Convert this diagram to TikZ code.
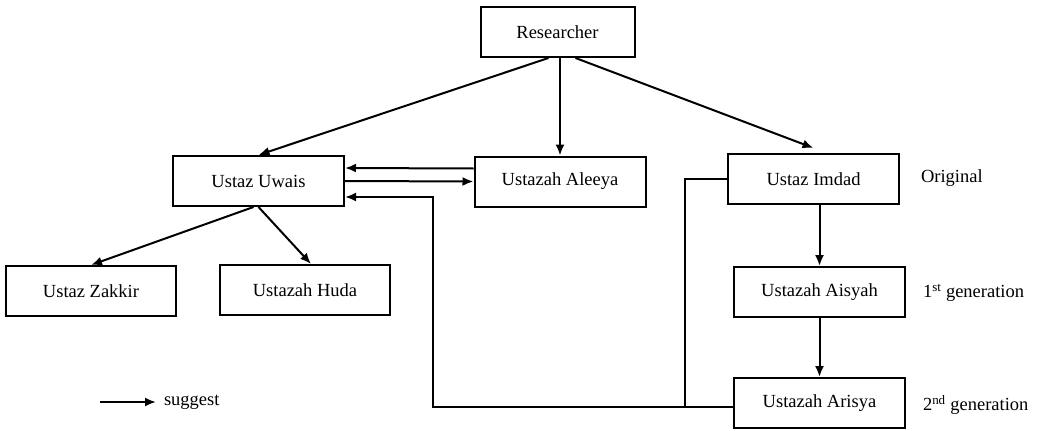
\documentclass[tikz,border=0pt]{standalone}
\usepackage{fontspec}
\setmainfont{Liberation Serif}
\usetikzlibrary{arrows.meta}
\tikzset{
  box/.style={draw,minimum width=171pt,minimum height=50pt,inner sep=0pt},
  gen/.style={anchor=west,inner sep=0pt},
}
\begin{document}
\begin{tikzpicture}[x=1pt,y=-1pt,line join=miter,>={Latex[length=11pt,width=9pt]},line width=2pt,font=\fontsize{18.5}{22}\selectfont]
	\useasboundingbox (0,0) rectangle (1042,431);
	% boxes
	\node[box,minimum width=154pt] (res) at (557.5,32) {Researcher};
	\node[box] (uwais) at (258.5,181) {Ustaz Uwais};
	\node[box] (aleeya) at (560,181.5) {Ustazah Aleeya};
	\node[box] (imdad) at (813.5,179) {Ustaz Imdad};
	\node[box] (aisyah) at (819.5,292) {Ustazah Aisyah};
	\node[box] (arisya) at (819.5,403) {Ustazah Arisya};
	\node[box,minimum width=170pt] (zakkir) at (91,291) {Ustaz Zakkir};
	\node[box,minimum width=170pt] (huda) at (305,290) {Ustazah Huda};
	\node[gen] (orig) at (920,178) {Original};
	\node[gen] (gen1) at (922,293) {1\textsuperscript{st} generation};
	\node[gen] (gen2) at (922,405) {2\textsuperscript{nd} generation};
	% arrows
	\draw[->] ([xshift=-9pt]res.south) -- (uwais.north);
	\draw[->] (aleeya.north |- res.south) -- (aleeya.north);
	\draw[->] ([xshift=18pt]res.south) -- ([yshift=5pt]imdad.north);
	\draw[->] ([yshift=13pt]aleeya.west) -- ([yshift=13pt]uwais.east);
	\draw[->] (uwais.east) -- (aleeya.west);
	\draw[->] ([xshift=-5pt]uwais.south) -- (zakkir.north);
	\draw[->] (uwais.south) -- ([xshift=6pt]huda.north);
	\draw[->] (imdad.south -| aisyah.north) -- (aisyah.north);
	\draw[->] (aisyah.south) -- (arisya.north);
	\coordinate (back) at (433,197);
	\coordinate (jn) at (685,407);
	\draw[->] (arisya.west |- jn) -| (back) -- (uwais.east |- back);
	\draw[line width=1.2pt] (imdad.west) -| (jn);
	% legend
	\coordinate (lg) at (100,402);
	\node[gen] (sug) at (163,402) {suggest};
	\draw[->] (lg) -- ([xshift=-7pt]sug.west);
\end{tikzpicture}
\end{document}
